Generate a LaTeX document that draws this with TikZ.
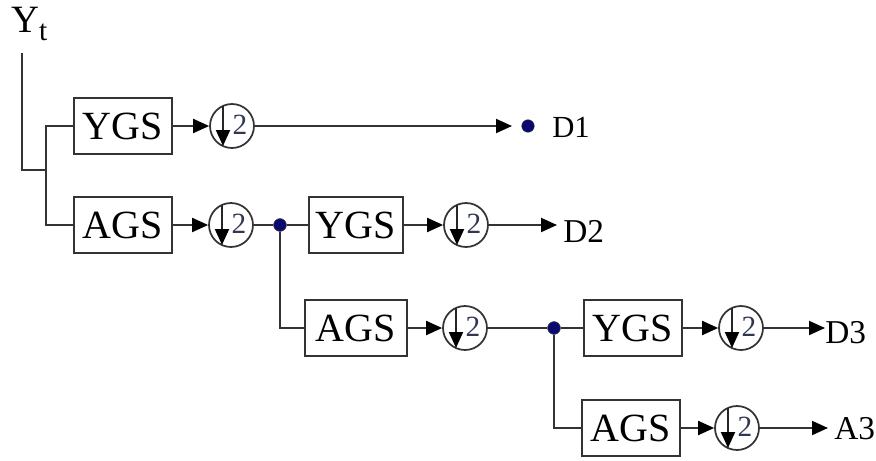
\documentclass[tikz,border=0pt]{standalone}
\usepackage{fontspec}
\setmainfont{Liberation Serif}
\usetikzlibrary{arrows.meta}
\definecolor{dotblue}{RGB}{10,10,110}
\definecolor{twoink}{RGB}{50,55,80}
\tikzset{
  wire/.style={line width=1.5pt, draw=black!80},
  flow/.style={wire, -{Triangle[length=12pt,width=10.5pt,fill=black,color=black]}},
  gsbox/.style={draw=black!80, line width=1.3pt, minimum width=73.5pt, minimum height=42pt,
    inner sep=0pt, font=\fontsize{30}{32}\selectfont},
  dsamp/.style={circle, draw=black!80, line width=1.3pt, minimum size=33pt, inner sep=0pt},
  junction/.style={circle, fill=dotblue, draw=black!70, line width=0.3pt, minimum size=9.5pt, inner sep=0pt},
  outlabel/.style={anchor=base west, inner sep=0pt, font=\fontsize{25}{27}\selectfont},
}
% decimation symbol inside a circle node: down arrow and the factor 2
\newcommand{\decim}[1]{%
  \draw[line width=1.4pt, draw=black!85, -{Triangle[length=12pt,width=10.5pt,fill=black,color=black]}]
    ([shift={(-9,-20)}]#1.center) -- ([shift={(-9,20)}]#1.center);
  \node[inner sep=0pt, text=twoink, font=\fontsize{22}{22}\selectfont]
    at ([shift={(8,-1)}]#1.center) {2};
}
\begin{document}
\begin{tikzpicture}[x=0.75pt, y=-0.75pt]
\useasboundingbox (0,0) rectangle (876,461);

% input
\node[anchor=base west, inner sep=0pt, font=\fontsize{29}{30}\selectfont] (yt) at (11,32)
  {Y\raisebox{-0.22em}{\fontsize{22}{22}\selectfont t}};
\coordinate (ytop) at (22,53);
\coordinate (jn) at (46,170);

% level 1
\node[gsbox] (ygs1) at (123,126) {YGS};
\node[gsbox] (ags1) at (123,225) {AGS};
\node[dsamp] (c1) at (232,126) {};
\node[dsamp] (c2) at (231,225) {};
\coordinate (tip1) at (512,126);
\node[junction] (o1) at (528,126) {};
\node[outlabel, font=\fontsize{23}{25}\selectfont] (d1) at (552,137) {D1};

% level 2
\node[junction] (j1) at (280,225) {};
\node[gsbox, minimum width=70.5pt] (ygs2) at (356,225) {YGS};
\node[gsbox, minimum width=76.5pt] (ags2) at (356,328) {AGS};
\node[dsamp] (c3) at (466,225) {};
\node[dsamp] (c4) at (465,328) {};
\coordinate (tip2) at (557,225);
\node[outlabel] (d2) at (563,242) {D2};

% level 3
\node[junction] (j2) at (554,328) {};
\node[gsbox] (ygs3) at (633,328) {YGS};
\node[gsbox] (ags3) at (631,428) {AGS};
\node[dsamp] (c5) at (741,328) {};
\node[dsamp] (c6) at (737,428) {};
\coordinate (tip3) at (825,328);
\coordinate (tip4) at (828,428);
\node[outlabel] (d3) at (825,343) {D3};
\node[outlabel] (a3) at (834,439) {A3};

\foreach \c in {c1,c2,c3,c4,c5,c6} { \decim{\c} }

% wiring
\draw[wire] (ytop) |- (jn);
\draw[wire] (ygs1.west) -| (jn) |- (ags1.west);
\draw[flow] (ygs1) -- (c1);
\draw[flow] (ags1) -- (c2);
\draw[flow] (c1) -- (tip1);

\draw[wire] (c2) -- (j1) -- (ygs2);
\draw[wire] (j1) |- (ags2.west);
\draw[flow] (ygs2) -- (c3);
\draw[flow] (ags2) -- (c4);
\draw[flow] (c3) -- (tip2);

\draw[wire] (c4) -- (j2) -- (ygs3);
\draw[wire] (j2) |- (ags3.west);
\draw[flow] (ygs3) -- (c5);
\draw[flow] (ags3) -- (c6);
\draw[flow] (c5) -- (tip3);
\draw[flow] (c6) -- (tip4);

% junction dots on top of the wires
\node[junction] at (j1) {};
\node[junction] at (j2) {};
\end{tikzpicture}
\end{document}
